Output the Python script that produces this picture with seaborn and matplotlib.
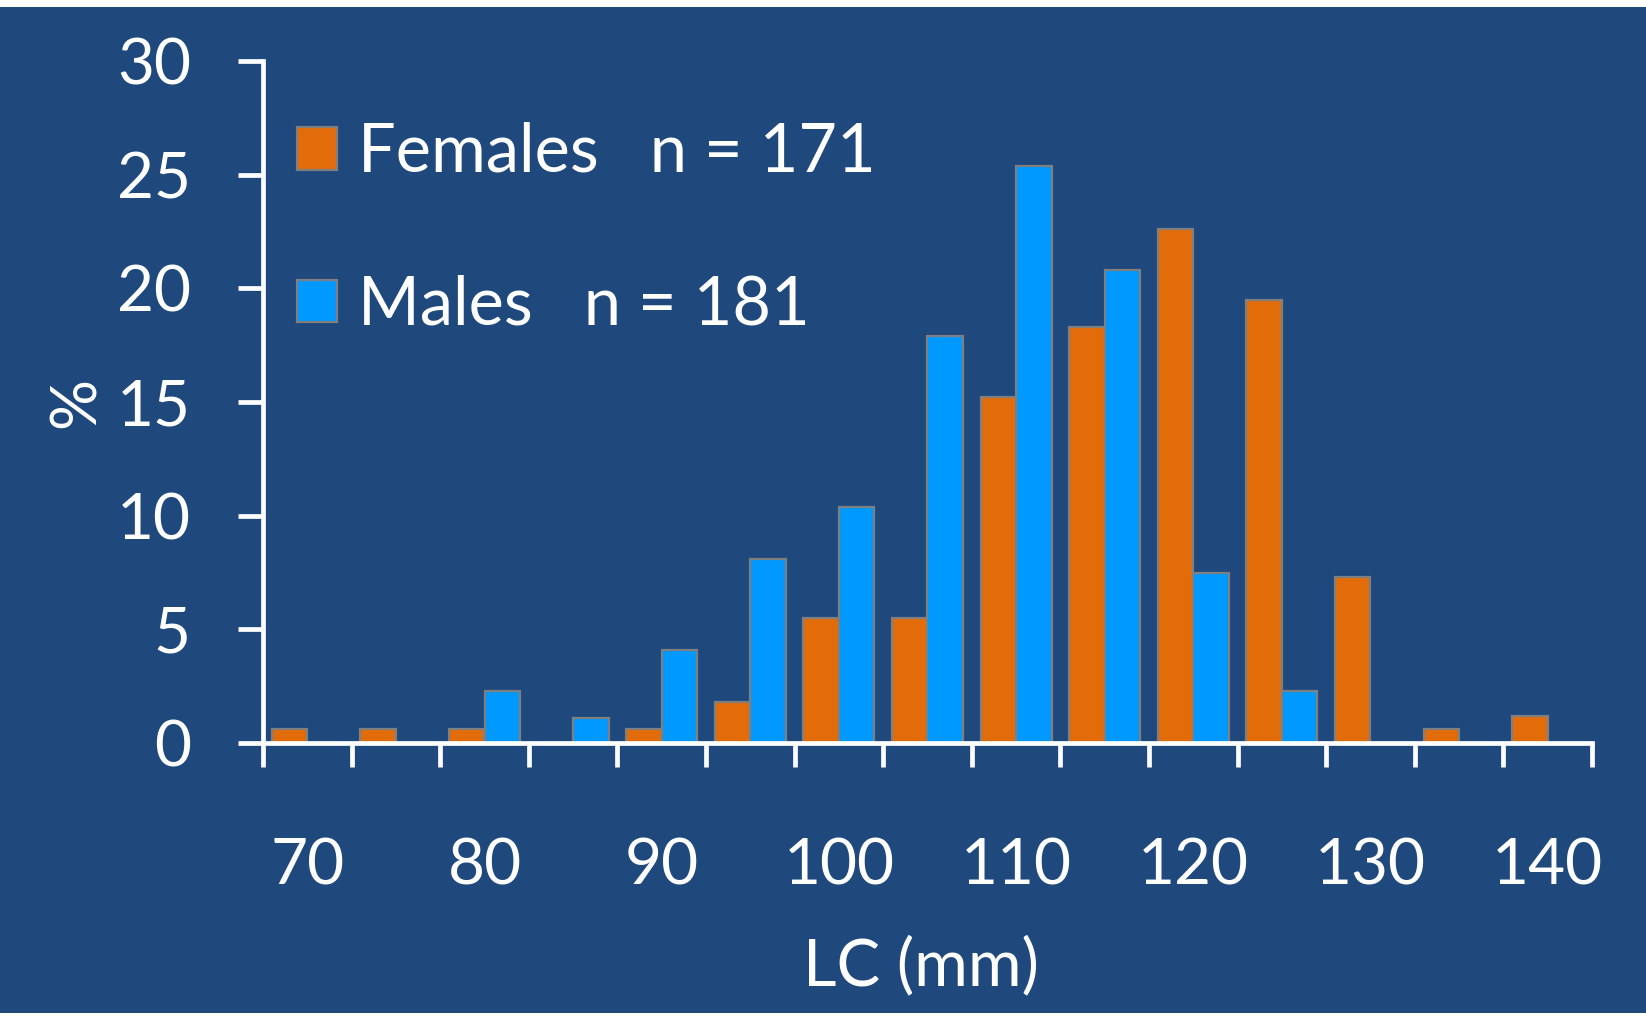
import matplotlib
matplotlib.use("Agg")
import matplotlib.pyplot as plt
from matplotlib.patches import Rectangle
from matplotlib.ticker import FixedLocator, NullFormatter
import numpy as np
import pandas as pd
import seaborn as sns

# Carapace length classes (mm) and percentage of animals in each class
lc_classes = ["70", "75", "80", "85", "90", "95", "100", "105", "110",
              "115", "120", "125", "130", "135", "140"]
females_pct = [0.6, 0.6, 0.6, 0.0, 0.6, 1.8, 5.5, 5.5, 15.2, 18.3, 22.6, 19.5, 7.3, 0.6, 1.2]
males_pct = [0.0, 0.0, 2.3, 1.1, 4.1, 8.1, 10.4, 17.9, 25.4, 20.8, 7.5, 2.3, 0.0, 0.0, 0.0]
n_females = 171
n_males = 181
x_tick_labels = ["70", "80", "90", "100", "110", "120", "130", "140"]
y_ticks = [0, 5, 10, 15, 20, 25, 30]

BG = "#1f497d"
ORANGE = "#e36c0a"
BLUE = "#0099ff"
EDGE = "#7f7f7f"
WHITE = "white"

sns.set_theme(style="white")
plt.rcParams["font.family"] = ["Lato", "DejaVu Sans"]

fig = plt.figure(figsize=(16.46, 10.26), dpi=100)
fig.patch.set_facecolor("white")
fig.patches.append(Rectangle((0, 13 / 1026), 1, 1 - 20 / 1026, transform=fig.transFigure,
                             facecolor=BG, edgecolor="none", zorder=-10))

ax = fig.add_axes([263 / 1646, 1 - 743 / 1026, (1592 - 263) / 1646, (743 - 61) / 1026])
ax.set_facecolor("none")

df = pd.DataFrame({
    "lc": lc_classes * 2,
    "pct": females_pct + males_pct,
    "sex": ["Females"] * len(lc_classes) + ["Males"] * len(lc_classes),
})

sns.barplot(data=df, x="lc", y="pct", hue="sex", order=lc_classes,
            hue_order=["Females", "Males"], palette=[ORANGE, BLUE], saturation=1,
            edgecolor=EDGE, linewidth=1.6, width=0.8, gap=0, ax=ax, legend=True)

ax.set_xlim(-0.5, len(lc_classes) - 0.5)
ax.set_ylim(0, 30)

# spines
for side in ("top", "right"):
    ax.spines[side].set_visible(False)
for side in ("left", "bottom"):
    ax.spines[side].set_color(WHITE)
    ax.spines[side].set_linewidth(3.4)
    ax.spines[side].set_zorder(5)

# y axis
ax.set_yticks(y_ticks)
ax.set_yticklabels([str(v) for v in y_ticks])
ax.tick_params(axis="y", which="major", direction="out", length=18, width=3.4,
               color=WHITE, labelcolor=WHITE, labelsize=46, pad=34, left=True)

# x axis: tick marks at class boundaries, labels centred on every other class
boundaries = np.arange(-0.5, len(lc_classes), 1.0)
ax.xaxis.set_major_locator(FixedLocator(boundaries))
ax.xaxis.set_major_formatter(NullFormatter())
ax.xaxis.set_minor_locator(FixedLocator(np.arange(0, len(lc_classes), 2)))
ax.set_xticklabels(x_tick_labels, minor=True)
ax.tick_params(axis="x", which="major", direction="out", length=17, width=3.4,
               color=WHITE, bottom=True)
ax.tick_params(axis="x", which="minor", length=0, labelcolor=WHITE, labelsize=46,
               pad=68, bottom=True)

ax.set_xlabel("LC (mm)", color=WHITE, fontsize=47)
ax.xaxis.set_label_coords(0.495, -0.3274)
ax.xaxis.label.set_va("center")
ax.set_ylabel("%", color=WHITE, fontsize=46)
ax.yaxis.set_label_coords(-0.1398, 0.5)
ax.yaxis.label.set_va("center")

handles, _ = ax.get_legend_handles_labels()
leg = ax.legend(handles,
                [f"Females   n = {n_females}", f"Males   n = {n_males}"],
                loc="upper left", bbox_to_anchor=(297 / 1646, 1 - 122 / 1026),
                bbox_transform=fig.transFigure, frameon=False, fontsize=48,
                handlelength=0.6, handleheight=0.6, handletextpad=0.32,
                labelspacing=1.36, borderpad=0, borderaxespad=0)
for t in leg.get_texts():
    t.set_color(WHITE)

fig.savefig("out.png", dpi=100, facecolor=fig.get_facecolor())
